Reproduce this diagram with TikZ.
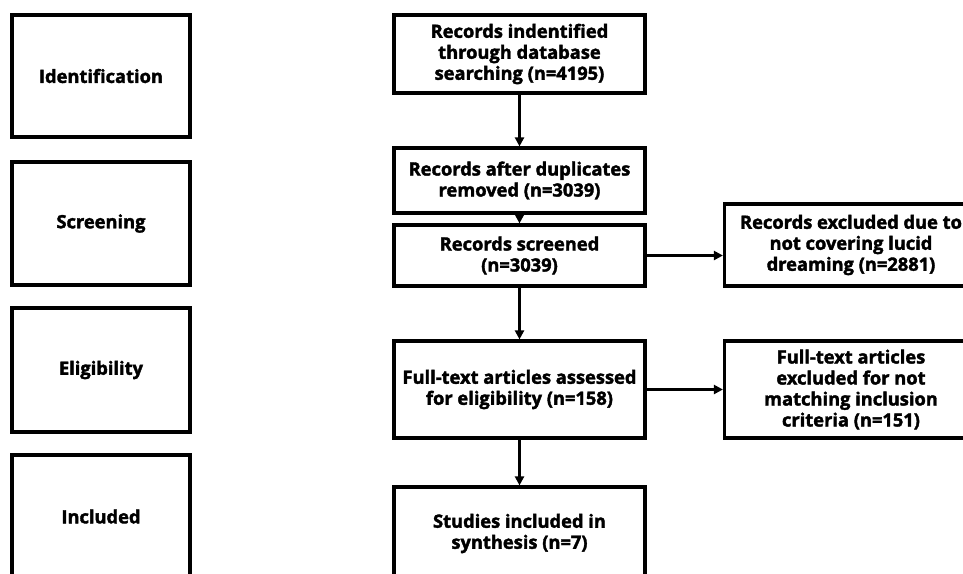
\documentclass[tikz,border=0pt]{standalone}
\usepackage{fontspec}
\setmainfont{Open Sans}[BoldFeatures={FakeBold=2}]
\usetikzlibrary{arrows.meta}
\tikzset{
  box/.style={draw=black, line width=3.2pt, fill=white, inner sep=0pt, align=center,
    font=\fontsize{18.3}{21}\selectfont\bfseries},
  stagebox/.style={box, minimum width=178pt},
  flowbox/.style={box, minimum width=251pt},
  sidebox/.style={box, minimum width=253pt},
  arr/.style={line width=2.2pt, -{Triangle[length=9pt,width=9pt]}}
}
\begin{document}
\begin{tikzpicture}[x=1pt,y=-1pt]
\useasboundingbox (0,0) rectangle (963,573);
\fill[white] (0,0) rectangle (963,573);
\clip (0,0) rectangle (963,573);
% stage boxes
\node[stagebox, minimum height=122pt] (ident) at (101,76) {Identification};
\node[stagebox, minimum height=123pt] (screen) at (101,223.5) {Screening};
\node[stagebox, minimum height=124pt] (elig) at (101,370) {Eligibility};
\node[stagebox, minimum height=123pt] (incl) at (101,516.5) {Included};
% flow boxes
\node[flowbox, minimum height=78pt] (c1) at (519.5,54) {Records indentified\\through database\\searching (n=4195)};
\node[flowbox, minimum height=65pt] (c2) at (519.5,180.5) {Records after duplicates\\removed (n=3039)};
\node[flowbox, minimum height=61pt] (c3) at (519.5,255.5) {Records screened\\(n=3039)};
\node[flowbox, minimum height=97pt] (c4) at (519.5,389.5) {Full-text articles assessed\\for eligibility (n=158)};
\node[flowbox, minimum height=93pt] (c5) at (519.5,533.5) {Studies included in\\synthesis (n=7)};
% side boxes
\node[sidebox, minimum height=82pt] (r1) at (851,245) {Records excluded due to\\not covering lucid\\dreaming (n=2881)};
\node[sidebox, minimum height=97pt] (r2) at (851,389.5) {Full-text articles\\excluded for not\\matching inclusion\\criteria (n=151)};
% arrows
\draw[arr] (c1) -- (c2);
\draw[arr] (c2) -- (c3);
\draw[arr] (c3) -- (c4);
\draw[arr] (c4) -- (c5);
\draw[arr] (c3.east) -- (c3.east -| r1.west);
\draw[arr] (c4) -- (r2);
\end{tikzpicture}
\end{document}
